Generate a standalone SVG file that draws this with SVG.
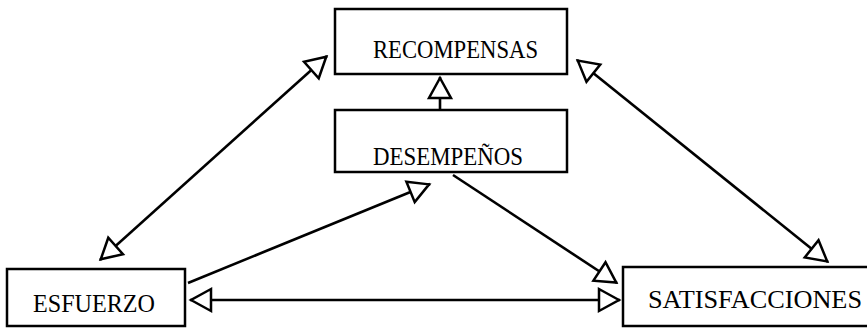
<svg xmlns="http://www.w3.org/2000/svg" width="867" height="328" viewBox="0 0 867 328">
<style>
.box{fill:none;stroke:#000;stroke-width:2.5}
.lbl{font-family:"Liberation Serif","DejaVu Serif",serif;font-size:25px;fill:#000}
.ln{stroke:#000;stroke-width:2.6;fill:none}
</style>
<defs>
<marker id="ah" markerUnits="userSpaceOnUse" markerWidth="30" markerHeight="30" viewBox="-26 -15 30 30" refX="0" refY="0" orient="auto-start-reverse" overflow="visible">
<path d="M-1,0 L-21,-11 L-21,11 Z" fill="#fff" stroke="#000" stroke-width="2.5" stroke-linejoin="miter"/>
</marker>
</defs>
<rect width="867" height="328" fill="#fff"/>
<g id="connectors">
<line class="ln" x1="100" y1="260" x2="327" y2="56" marker-start="url(#ah)" marker-end="url(#ah)"/>
<line class="ln" x1="577" y1="60" x2="828" y2="262" marker-start="url(#ah)" marker-end="url(#ah)"/>
<line class="ln" x1="188" y1="283" x2="430" y2="184" marker-end="url(#ah)"/>
<line class="ln" x1="453" y1="175" x2="617" y2="283" marker-end="url(#ah)"/>
<line class="ln" x1="190" y1="300" x2="620" y2="300" marker-start="url(#ah)" marker-end="url(#ah)"/>
<line class="ln" x1="440" y1="110" x2="440" y2="77" marker-end="url(#ah)"/>
</g>
<g id="recompensas">
<rect class="box" x="335" y="9" width="232" height="65"/>
<text class="lbl" x="373" y="58" textLength="165" lengthAdjust="spacingAndGlyphs">RECOMPENSAS</text>
</g>
<g id="desempenos">
<rect class="box" x="335" y="110" width="232" height="62"/>
<text class="lbl" x="373" y="165" textLength="150" lengthAdjust="spacingAndGlyphs">DESEMPEÑOS</text>
</g>
<g id="esfuerzo">
<rect class="box" x="7" y="269" width="178" height="57"/>
<text class="lbl" x="33" y="312" textLength="122" lengthAdjust="spacingAndGlyphs">ESFUERZO</text>
</g>
<g id="satisfacciones">
<rect class="box" x="623" y="267" width="250" height="59"/>
<text class="lbl" x="648" y="308" textLength="214" lengthAdjust="spacingAndGlyphs">SATISFACCIONES</text>
</g>
</svg>
